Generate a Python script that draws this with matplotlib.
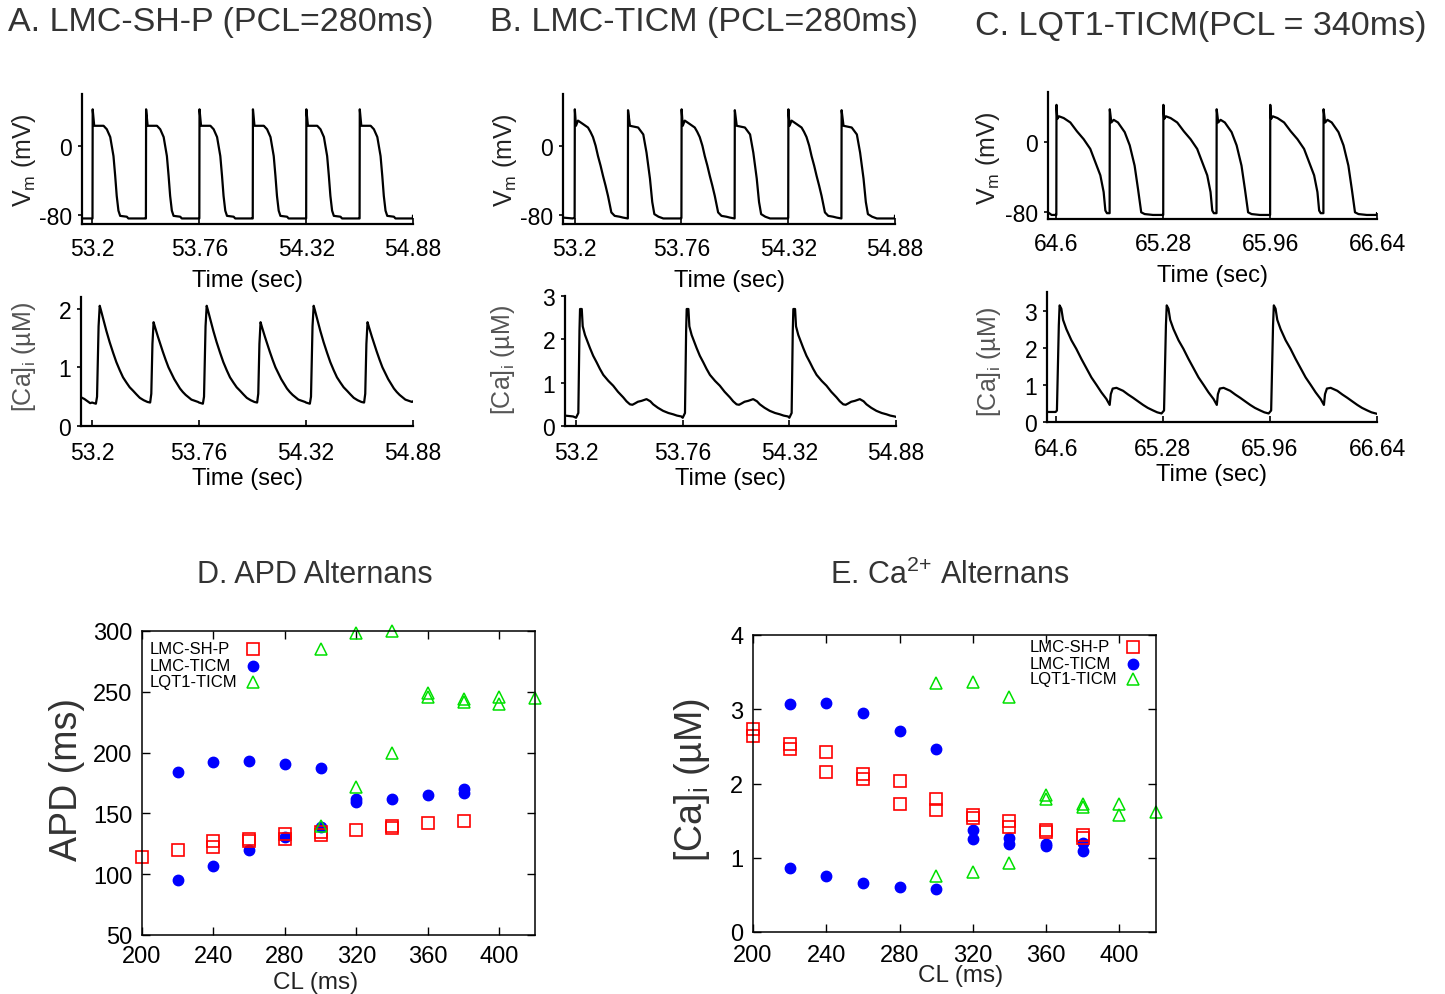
import matplotlib
matplotlib.use("Agg")
from matplotlib import pyplot as plt

plt.rcParams['font.family'] = ['Liberation Sans', 'DejaVu Sans']
plt.rcParams['mathtext.fontset'] = 'custom'
plt.rcParams['mathtext.rm'] = 'Liberation Sans'
plt.rcParams['mathtext.it'] = 'Liberation Sans:italic'
plt.rcParams['mathtext.bf'] = 'Liberation Sans:bold'

# ---- traces: beat onsets + one beat (or one alternans cycle) shape
# A. LMC-SH-P, PCL 280 ms
a_vm_onsets = [53.2, 53.48, 53.76, 54.04, 54.32, 54.60]
a_vm_beat_t = [0, 0.001, 0.009, 0.058, 0.075, 0.093, 0.11, 0.119, 0.127, 0.136, 0.145, 0.18, 0.188, 0.279]
a_vm_beat_v = [-84, 42, 23, 23, 19, 10, -12, -35, -58, -75, -81, -82, -84, -84]
a_ca_onsets = [53.2, 53.76, 54.32]
a_ca_cyc_t = [0, 0.02, 0.026, 0.034, 0.040, 0.046, 0.058, 0.075, 0.092, 0.11, 0.127, 0.145, 0.162,
              0.18, 0.197, 0.215, 0.232, 0.25, 0.27, 0.29, 0.304, 0.31, 0.316, 0.322, 0.33, 0.345,
              0.37, 0.385, 0.40, 0.415, 0.43, 0.445, 0.46, 0.475, 0.49, 0.505, 0.52, 0.555]
a_ca_cyc_v = [0.40, 0.38, 0.5, 1.7, 2.05, 1.98, 1.83, 1.62, 1.43, 1.25, 1.09, 0.95, 0.83,
              0.74, 0.66, 0.6, 0.54, 0.48, 0.44, 0.41, 0.40, 0.55, 1.4, 1.77, 1.68, 1.52,
              1.27, 1.13, 1.0, 0.9, 0.8, 0.72, 0.64, 0.58, 0.53, 0.49, 0.45, 0.41]

# B. LMC-TICM, PCL 280 ms
b_onsets = [53.2, 53.76, 54.32]
b_vm_cyc_t = [0, 0.001, 0.007, 0.0175, 0.044, 0.07, 0.083, 0.096, 0.11, 0.1225, 0.136, 0.149,
              0.162, 0.175, 0.1925, 0.21, 0.236, 0.254, 0.279, 0.28, 0.29, 0.333, 0.36, 0.377,
              0.395, 0.407, 0.418, 0.44, 0.465, 0.559]
b_vm_cyc_v = [-83, 42, 23, 29, 25, 21, 16, 10, 0, -12, -23, -35,
              -46, -58, -77, -81, -82, -83, -84, 41, 23, 21, 13, -8,
              -38, -65, -79, -82, -84, -84]
b_ca_cyc_t = [0, 0.012, 0.018, 0.021, 0.03, 0.035, 0.047, 0.06, 0.073, 0.09, 0.108, 0.125, 0.143,
              0.17, 0.195, 0.22, 0.248, 0.265, 0.283, 0.296, 0.309, 0.325, 0.344, 0.37, 0.39, 0.405,
              0.43, 0.457, 0.485, 0.51, 0.53, 0.553]
b_ca_cyc_v = [0.19, 0.3, 2.2, 2.7, 2.7, 2.3, 2.1, 1.95, 1.8, 1.62, 1.47, 1.32, 1.18,
              1.04, 0.93, 0.79, 0.66, 0.57, 0.5, 0.49, 0.52, 0.56, 0.58, 0.62, 0.57, 0.5,
              0.42, 0.35, 0.3, 0.27, 0.24, 0.22]

# C. LQT1-TICM, PCL 340 ms
c_onsets = [64.6, 65.28, 65.96]
c_vm_cyc_t = [0, 0.001, 0.006, 0.017, 0.047, 0.089, 0.131, 0.174, 0.216, 0.248, 0.28, 0.301,
              0.312, 0.322, 0.339, 0.34, 0.35, 0.365, 0.392, 0.435, 0.467, 0.498, 0.52, 0.54,
              0.562, 0.615, 0.679]
c_vm_cyc_v = [-83, 42, 26, 29, 27, 22, 12, 3, -8, -23, -38, -57,
              -78, -81, -81, 37, 22, 25, 22, 11, -4, -27, -54, -80,
              -82, -83, -83]
c_ca_cyc_t = [0, 0.008, 0.02, 0.025, 0.036, 0.047, 0.068, 0.1, 0.131, 0.163, 0.195, 0.227,
              0.259, 0.29, 0.322, 0.343, 0.35, 0.362, 0.386, 0.428, 0.46, 0.492, 0.525, 0.555,
              0.585, 0.619, 0.645, 0.672]
c_ca_cyc_v = [0.27, 0.31, 2.6, 3.14, 3.05, 2.75, 2.5, 2.2, 1.97, 1.7, 1.45, 1.2,
              1.0, 0.8, 0.62, 0.46, 0.75, 0.9, 0.92, 0.84, 0.74, 0.65, 0.55, 0.46,
              0.38, 0.31, 0.26, 0.23]

# ---- restitution data
cl_sh = [200, 220, 240, 240, 260, 260, 280, 280, 300, 300, 320, 340, 340, 360, 380]
apd_sh = [114, 120, 127, 122, 129, 127, 133, 129, 135, 132, 136, 140, 138, 142, 144]
cl_ticm = [220, 220, 240, 240, 260, 260, 280, 280, 300, 300, 320, 320, 340, 360, 380, 380]
apd_ticm = [184, 95, 192, 107, 193, 120, 191, 131, 187, 139, 162, 159, 162, 165, 170, 167]
cl_lqt = [300, 300, 320, 320, 340, 340, 360, 360, 380, 380, 400, 400, 420]
apd_lqt = [285, 140, 298, 172, 300, 200, 249, 246, 244, 242, 246, 240, 245]

ca_cl_sh = [200, 200, 220, 220, 240, 240, 260, 260, 280, 280, 300, 300, 320, 320, 340, 340,
            360, 360, 380, 380]
ca_sh = [2.73, 2.64, 2.53, 2.46, 2.43, 2.16, 2.13, 2.06, 2.04, 1.73, 1.79, 1.64, 1.57, 1.54,
         1.50, 1.42, 1.375, 1.35, 1.30, 1.27]
ca_cl_ticm = [220, 220, 240, 240, 260, 260, 280, 280, 300, 300, 320, 320, 340, 340, 360, 360,
              380, 380]
ca_ticm = [3.07, 0.86, 3.09, 0.75, 2.95, 0.66, 2.71, 0.61, 2.47, 0.58, 1.37, 1.25, 1.27, 1.18,
           1.18, 1.16, 1.20, 1.09]
ca_cl_lqt = [300, 300, 320, 320, 340, 340, 360, 360, 380, 380, 400, 400, 420]
ca_lqt = [3.35, 0.76, 3.37, 0.81, 3.17, 0.93, 1.85, 1.79, 1.73, 1.68, 1.73, 1.57, 1.62]

series = ['LMC-SH-P', 'LMC-TICM', 'LQT1-TICM']


def trace(pre_t, pre_v, starts, shape_t, shape_v, end_t, end_v):
    t, v = list(pre_t), list(pre_v)
    for s in starts:
        t += [s + dt for dt in shape_t]
        v += list(shape_v)
    return t + [end_t], v + [end_v]


W, H = 1445, 995
fig = plt.figure(figsize=(W / 100, H / 100), dpi=100)


def px_axes(l, t, r, b):
    return fig.add_axes([l / W, 1 - b / H, (r - l) / W, (b - t) / H])


def ftext(x, y, s, **kw):
    fig.text(x / W, 1 - y / H, s, **kw)


def trace_axes(rect, t, v, xlim, ylim, xticks, xlabels, yticks, ylabels, xpad, xlabelpad):
    ax = px_axes(*rect)
    ax.plot(t, v, color='black', lw=1.6)
    ax.set_xlim(*xlim)
    ax.set_ylim(*ylim)
    for s in ['top', 'right']:
        ax.spines[s].set_visible(False)
    for s in ['left', 'bottom']:
        ax.spines[s].set_linewidth(1.6)
    ax.set_xticks(xticks, xlabels)
    ax.set_yticks(yticks, ylabels)
    ax.tick_params(axis='x', direction='in', length=4, width=1.2, labelsize=16.5, pad=xpad)
    ax.tick_params(axis='y', direction='out', length=3, width=1.2, labelsize=16.5, pad=4)
    ax.set_xlabel('Time (sec)', fontsize=17, labelpad=xlabelpad)
    return ax


ab_ticks = [53.2, 53.76, 54.32, 54.88]
ab_labels = ['53.2', '53.76', '54.32', '54.88']
c_ticks = [64.6, 65.28, 65.96, 66.64]
c_labels = ['64.6', '65.28', '65.96', '66.64']

t, v = trace([53.145, 53.19], [-84, -84], a_vm_onsets, a_vm_beat_t, a_vm_beat_v, 54.88, -81)
trace_axes((82, 95, 413, 225), t, v, (53.145, 54.88), (-90.4, 59.7),
           ab_ticks, ab_labels, [0, -80], ['0', '-80'], 9.5, 6)
t, v = trace([53.142, 53.16, 53.19], [0.49, 0.46, 0.39], a_ca_onsets, a_ca_cyc_t, a_ca_cyc_v, 54.88, 0.42)
trace_axes((81, 298, 413, 427), t, v, (53.142, 54.88), (0, 2.2),
           ab_ticks, ab_labels, [0, 1, 2], ['0', '1', '2'], 11, 2)

t, v = trace([53.139, 53.19], [-83, -84], b_onsets, b_vm_cyc_t, b_vm_cyc_v, 54.88, -81)
trace_axes((563, 95, 895, 225), t, v, (53.139, 54.88), (-90.4, 59.7),
           ab_ticks, ab_labels, [0, -80], ['0', '-80'], 9.5, 6)
t, v = trace([53.142, 53.185], [0.24, 0.22], b_onsets, b_ca_cyc_t, b_ca_cyc_v, 54.88, 0.21)
trace_axes((565, 297, 896, 427), t, v, (53.142, 54.88), (0, 3.0),
           ab_ticks, ab_labels, [0, 1, 2, 3], ['0', '1', '2', '3'], 11, 2)

t, v = trace([64.547, 64.57, 64.595], [-80, -83, -83], c_onsets, c_vm_cyc_t, c_vm_cyc_v, 66.64, -81)
trace_axes((1048, 93, 1377, 220), t, v, (64.547, 66.64), (-87.6, 56.6),
           c_ticks, c_labels, [0, -80], ['0', '-80'], 9.5, 6)
t, v = trace([64.545, 64.59], [0.27, 0.27], c_onsets, c_ca_cyc_t, c_ca_cyc_v, 66.64, 0.22)
trace_axes((1047, 293, 1377, 423), t, v, (64.545, 66.64), (0, 3.5),
           c_ticks, c_labels, [0, 1, 2, 3], ['0', '1', '2', '3'], 11, 2)

# y labels of the trace panels
vm_lab = r'V$_\mathregular{m}$ (mV)'
ca_lab = r'[Ca]$_\mathregular{i}$ (µM)'
for x, y in [(24, 160), (505, 160), (988, 158)]:
    ftext(x, y, vm_lab, rotation=90, ha='center', va='center', fontsize=18, color='#222222')
for x, y in [(24, 357), (503, 360), (989, 362)]:
    ftext(x, y, ca_lab, rotation=90, ha='center', va='center', fontsize=18, color='#555555')

ftext(8, 22.5, 'A. LMC-SH-P (PCL=280ms)', ha='left', va='center', fontsize=24.5, color='#333333')
ftext(490, 22.5, 'B. LMC-TICM (PCL=280ms)', ha='left', va='center', fontsize=24.5, color='#333333')
ftext(975, 26, 'C. LQT1-TICM(PCL = 340ms)', ha='left', va='center', fontsize=24.5, color='#333333')

red_sty = dict(marker='s', mfc='none', mec='#ff0000', ms=8.5, mew=1.2, ls='none')
blue_sty = dict(marker='o', color='#0000ff', mec='#0000ff', ms=7.5, ls='none')
green_sty = dict(marker='^', mfc='none', mec='#00e000', ms=9, mew=1.1, ls='none')


def scatter_axes(rect, sets, ylim, yticks, xpad, text_x, mark_x, rows_y):
    ax = px_axes(*rect)
    wpx, hpx = rect[2] - rect[0], rect[3] - rect[1]
    red, blue, green = sets
    ax.plot(blue[0], blue[1], clip_on=False, **blue_sty)
    ax.plot(red[0], red[1], clip_on=False, **red_sty)
    ax.plot(green[0], green[1], clip_on=False, **green_sty)
    ax.set_xlim(200, 420)
    ax.set_ylim(*ylim)
    ax.set_xticks([200, 240, 280, 320, 360, 400])
    ax.set_yticks(yticks)
    for s in ax.spines.values():
        s.set_linewidth(1.1)
    ax.tick_params(direction='in', top=True, right=True, length=6, width=1, labelsize=17)
    ax.tick_params(axis='x', pad=xpad)
    ax.tick_params(axis='y', pad=7)
    # gnuplot-like key: label first, sample mark on the right
    for lab, sty, ry in zip(series, [red_sty, blue_sty, green_sty], rows_y):
        ax.text(text_x / wpx, 1 - ry / hpx, lab, transform=ax.transAxes,
                ha='left', va='center', fontsize=12)
        ax.plot([mark_x / wpx], [1 - ry / hpx], transform=ax.transAxes, clip_on=False, **sty)
    return ax


scatter_axes((142, 632, 535, 936),
             [(cl_sh, apd_sh), (cl_ticm, apd_ticm), (cl_lqt, apd_lqt)],
             (50, 300), [50, 100, 150, 200, 250, 300], 7,
             8, 111, [18, 35, 51])
scatter_axes((753, 636, 1156, 933),
             [(ca_cl_sh, ca_sh), (ca_cl_ticm, ca_ticm), (ca_cl_lqt, ca_lqt)],
             (0, 4), [0, 1, 2, 3, 4], 8.5,
             277, 380, [12, 29, 44])

ftext(315, 575, 'D. APD Alternans', ha='center', va='center', fontsize=22, color='#333333')
ftext(950, 575, r'E. Ca$^{\mathregular{2{+}}}$ Alternans', ha='center', va='center', fontsize=22, color='#333333')
ftext(67, 780, 'APD (ms)', rotation=90, ha='center', va='center', fontsize=27, color='#333333')
ftext(692, 780, ca_lab, rotation=90, ha='center', va='center', fontsize=27, color='#333333')
ftext(316, 983, 'CL (ms)', ha='center', va='center', fontsize=17.5, color='#222222')
ftext(961, 976, 'CL (ms)', ha='center', va='center', fontsize=17.5, color='#222222')

fig.savefig('out.png', dpi=100)
